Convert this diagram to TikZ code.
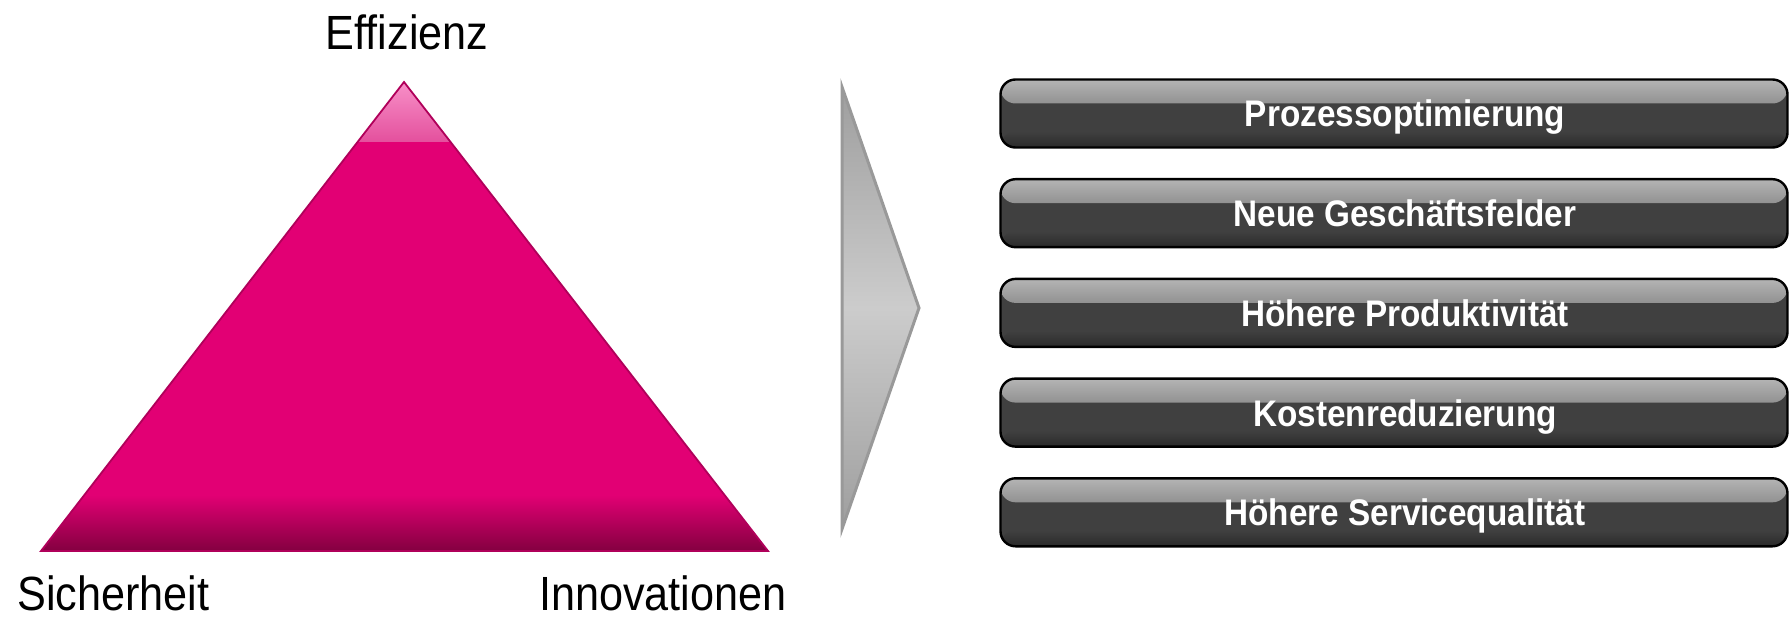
\documentclass[tikz,border=0pt]{standalone}
\usepackage{fontspec}
\setmainfont{Liberation Sans}[FakeStretch=0.9]
\definecolor{magenta}{HTML}{E20074}
\definecolor{magdark}{HTML}{82003F}
\definecolor{magedge}{HTML}{B0005A}
\definecolor{glosspink}{HTML}{F892C9}
\definecolor{glosspink2}{HTML}{E4509D}
\definecolor{boxgray}{HTML}{404040}
\definecolor{boxgloss}{HTML}{B4B4B4}
\definecolor{boxgloss2}{HTML}{525252}
\definecolor{boxdark}{HTML}{2A2A2A}
\definecolor{chevlight}{HTML}{CCCCCC}
\definecolor{chevdark}{HTML}{9E9E9E}
\definecolor{chevedge}{HTML}{999999}
\tikzset{
  corner/.style={font=\fontsize{48}{56}\selectfont, text=black, inner sep=0pt},
  bar/.style={draw=black, line width=2.4pt, rounded corners=15pt, fill=boxgray,
    minimum width=787pt, minimum height=68pt, inner sep=0pt,
    path picture={
      \shade[top color=boxgloss, bottom color=boxgloss2]
        (path picture bounding box.north west) rectangle ([yshift=-24pt]path picture bounding box.north east);
      \shade[top color=boxgray, bottom color=boxdark]
        ([yshift=16pt]path picture bounding box.south west) rectangle (path picture bounding box.south east);
    }},
  bartext/.style={text=white, font=\fontsize{37}{44}\selectfont\bfseries, inner sep=0pt, anchor=base}
}
\begin{document}
\begin{tikzpicture}[x=1pt,y=-1pt]
\useasboundingbox (0,0) rectangle (1790,617);
% triangle
\coordinate (apex) at (404,82);
\coordinate (bl) at (41,551);
\coordinate (br) at (768,551);
\fill[magenta] (apex) -- (br) -- (bl) -- cycle;
\begin{scope}
  \clip (apex) -- (br) -- (bl) -- cycle;
  \shade[top color=glosspink, bottom color=glosspink2] (30,80) rectangle (780,142);
  \shade[top color=magenta, bottom color=magdark] (30,495) rectangle (780,552);
\end{scope}
\draw[magedge, line width=1.8pt, line join=miter] (apex) -- (br) -- (bl) -- cycle;
\node[corner, anchor=base] (eff) at (407,50) {Effizienz};
\node[corner, anchor=base] (sich) at (113.5,610) {Sicherheit};
\node[corner, anchor=base] (inno) at (663,610) {Innovationen};
% chevron
\coordinate (ct) at (842,87);
\coordinate (cp) at (919,308);
\coordinate (cb) at (842,529);
\shade[top color=chevdark, bottom color=chevdark, middle color=chevlight] (ct) -- (cp) -- (cb) -- cycle;
\draw[chevedge, line width=3pt, line join=miter] (ct) -- (cp) -- (cb) -- cycle;
% bars
\foreach \i/\t in {0/Prozessoptimierung,1/Neue Geschäftsfelder,2/Höhere Produktivität,3/Kostenreduzierung,4/Höhere Servicequalität}{
  \node[bar] (b\i) at (1394,{113.5+99.7*\i}) {};
  \node[bartext] (t\i) at ([xshift=11pt,yshift=-13.5pt]b\i.center) {\t};
}
\end{tikzpicture}
\end{document}
